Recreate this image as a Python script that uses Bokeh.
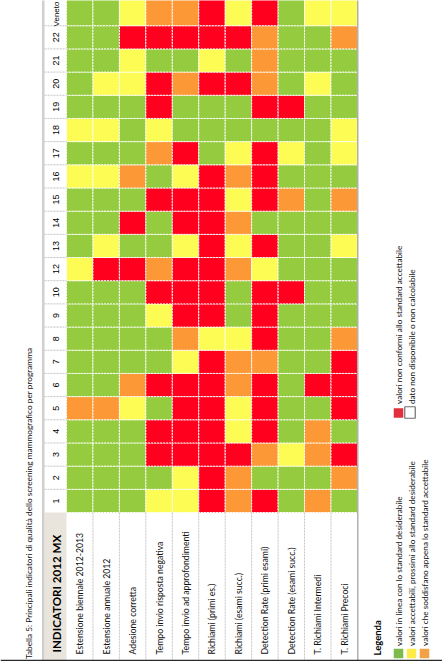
import math
from bokeh.plotting import figure
from bokeh.models import Range1d
from bokeh.core.properties import value
from bokeh.embed import file_html
from bokeh.resources import INLINE

# ---------------- data ----------------
title_text = "Tabella 5: Principali indicatori di qualità dello screening mammografico per programma"
header_title = "INDICATORI 2012 MX"
indicators = [
    "Estensione biennale 2012-2013",
    "Estensione annuale 2012",
    "Adesione corretta",
    "Tempo invio risposta negativa",
    "Tempo invio ad approfondimenti",
    "Richiami (primi es.)",
    "Richiami (esami succ.)",
    "Detection Rate (primi esami)",
    "Detection Rate (esami succ.)",
    "T. Richiami Intermedi",
    "T. Richiami Precoci",
]
programmes = ["1", "2", "3", "4", "5", "6", "7", "8", "9", "10", "12", "13", "14",
              "15", "16", "17", "18", "19", "20", "21", "22", "Veneto"]
# one letter per indicator: G = in linea, Y = accettabile, O = appena accettabile, R = non conforme
ratings = [
    "GGGYYRORGOG",  # 1
    "GGGGYROGGGO",  # 2
    "GGGRRRROYOR",  # 3
    "GGGRRRYRGOG",  # 4
    "OOYGRRYRGGR",  # 5
    "GGORRRORGRR",  # 6
    "GGGGYROOGGR",  # 7
    "GGGGOYYRGGO",  # 8
    "GGGYRRGRGGG",  # 9
    "GGGRRRGRRGG",  # 10
    "YRRORROYGGG",  # 12
    "GYGGYRYRGGY",  # 13
    "GGRGRROGGGG",  # 14
    "GGGRRRYROGO",  # 15
    "YYOGYRORGGG",  # 16
    "GGGORGYRYGY",  # 17
    "YYGYGGGGGGY",  # 18
    "GGGRGGGRRGG",  # 19
    "GYYRORROGYG",  # 20
    "GGYGGYGOGGG",  # 21
    "GGRRRRROGGO",  # 22
    "GGYOORYRGYY",  # Veneto
]
legend_title = "Legenda"
legend_left_labels = [
    "valori in linea con lo standard desiderabile",
    "valori accettabili, prossimi allo standard desiderabile",
    "valori che soddisfano appena lo standard accettabile",
]
legend_left_codes = ["G", "Y", "O"]
legend_right_labels = [
    "valori non conformi allo standard accettabile",
    "dato non disponibile o non calcolabile",
]
legend_right_codes = ["R", "N"]

# ---------------- styles ----------------
cell_colors = {"G": "#94CB3F", "Y": "#FCFC55", "O": "#FC9836", "R": "#FF001F"}
legend_colors = {"G": "#7DB94B", "Y": "#FDEB49", "O": "#F3A047", "R": "#E1303B", "N": "#FFFFFF"}
FONT = "Lato"
TXT = "#111111"

W, H = 442, 661
def Y(iy):
    return H - iy

X0, CW = 66.0, 26.45           # grid left, column width
ROW_BOTTOM, RH = 512.0, 23.18  # bottom of row "1", row height
NUM_L, NUM_R = 44.0, 66.0

p = figure(width=W, height=H, x_range=Range1d(0, W), y_range=Range1d(0, H),
           output_backend="svg", toolbar_location=None, x_axis_type=None, y_axis_type=None,
           min_border=0)
p.grid.visible = False
p.outline_line_color = None
p.background_fill_color = "white"
p.border_fill_color = "white"

n_rows = len(programmes)
n_cols = len(indicators)

# ---------------- grid cells ----------------
lefts, rights, tops, bottoms, fills = [], [], [], [], []
for i, row in enumerate(ratings):
    b = ROW_BOTTOM - i * RH
    t = ROW_BOTTOM - (i + 1) * RH
    if i == n_rows - 1:
        t = -30
    for j, code in enumerate(row):
        lefts.append(X0 + j * CW)
        rights.append(X0 + (j + 1) * CW)
        tops.append(Y(t))
        bottoms.append(Y(b))
        fills.append(cell_colors[code])
p.quad(left=lefts, right=rights, top=tops, bottom=bottoms, fill_color=fills,
       line_color="white", line_width=1, line_dash="2 1")

# number column separators
seg_y = [Y(ROW_BOTTOM - k * RH) for k in range(1, n_rows)]
p.segment(x0=[NUM_L] * len(seg_y), x1=[NUM_R] * len(seg_y), y0=seg_y, y1=seg_y,
          line_color="#C4C4C4", line_width=1, line_dash="2 1")

# programme labels
prog_y, prog_size = [], []
for i in range(n_rows):
    c = ROW_BOTTOM - (i + 0.5) * RH
    size = "9px"
    if i == n_rows - 1:
        c = 13.5
        size = "8px"
    prog_y.append(Y(c))
    prog_size.append(size)
p.text(x=[(NUM_L + NUM_R) / 2 + 0.5] * n_rows, y=prog_y, text=programmes, angle=math.pi / 2,
       text_align="center", text_baseline="middle", text_font=value("Liberation Sans"),
       text_font_size=prog_size, text_color="#000000")

# ---------------- header row (indicators) ----------------
p.quad(left=[NUM_L], right=[NUM_R], top=[Y(ROW_BOTTOM)], bottom=[Y(H + 5)],
       fill_color="#EAE5DC", line_color=None)
vx = [X0 + k * CW for k in range(1, n_cols)]
p.segment(x0=vx, x1=vx, y0=[Y(ROW_BOTTOM)] * len(vx), y1=[Y(H + 5)] * len(vx),
          line_color="#C4C4C4", line_width=1, line_dash="2 1")
p.text(x=[(NUM_L + NUM_R) / 2 + 0.5], y=[Y(652)], text=[header_title], angle=math.pi / 2,
       text_align="left", text_baseline="middle", text_font=value(FONT),
       text_font_style="bold", text_font_size="11.6px", text_color="#000000")
p.text(x=[X0 + (j + 0.5) * CW for j in range(n_cols)], y=[Y(654)] * n_cols, text=indicators,
       angle=math.pi / 2, text_align="left", text_baseline="middle", text_font=value(FONT),
       text_font_size="8.7px", text_color=TXT)

# table borders
p.quad(left=[41.5], right=[44], top=[Y(-5)], bottom=[Y(H + 5)], fill_color="#CFCFCF", line_color=None)
p.segment(x0=[357.3], x1=[357.3], y0=[Y(-5)], y1=[Y(H + 5)], line_color="#9E9E9E", line_width=1.2)

# table title
p.text(x=[28], y=[Y(658.5)], text=[title_text], angle=math.pi / 2, text_align="left",
       text_baseline="middle", text_font=value(FONT), text_font_size="8.3px", text_color=TXT)

# ---------------- legend ----------------
p.text(x=[377], y=[Y(655)], text=[legend_title], angle=math.pi / 2, text_align="left",
       text_baseline="middle", text_font=value(FONT), text_font_style="bold",
       text_font_size="9.5px", text_color="#000000")
lx = [398 + 13 * k for k in range(len(legend_left_codes))]
p.rect(x=lx, y=[Y(653)] * len(lx), width=9.5, height=9.5,
       fill_color=[legend_colors[c] for c in legend_left_codes], line_color=None)
p.text(x=[x + 0.3 for x in lx], y=[Y(645.5)] * len(lx), text=legend_left_labels, angle=math.pi / 2,
       text_align="left", text_baseline="middle", text_font=value(FONT),
       text_font_size="8.2px", text_color=TXT)
rx = [398, 409.5]
p.rect(x=rx, y=[Y(412.5), Y(412)], width=[9.5, 10.5], height=[9.5, 11.5],
       fill_color=[legend_colors[c] for c in legend_right_codes],
       line_color=[None, "#707070"], line_width=1.2)
p.text(x=[398.5, 411.5], y=[Y(403.5)] * 2, text=legend_right_labels, angle=math.pi / 2,
       text_align="left", text_baseline="middle", text_font=value(FONT),
       text_font_size="8.2px", text_color=TXT)

# page edge line at the very bottom
p.segment(x0=[0], x1=[W], y0=[Y(660)], y1=[Y(660)], line_color="#2A2A2A", line_width=1.5)

open("out.html", "w").write(file_html(p, INLINE))
